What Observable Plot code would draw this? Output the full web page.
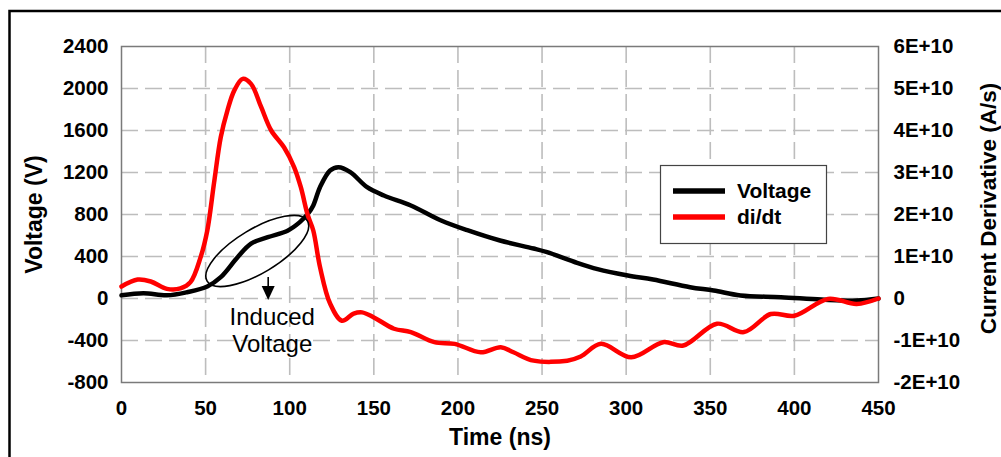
<!DOCTYPE html>
<html><head><meta charset="utf-8">
<script src="https://cdn.jsdelivr.net/npm/d3@7"></script>
<script src="https://cdn.jsdelivr.net/npm/@observablehq/plot@0.6"></script>
<style>
html,body{margin:0;padding:0;background:#fff;overflow:hidden;}
#chart svg{display:block;}
</style></head><body><div id="chart"></div>
<script>
// ---- data ----
const timeVoltage = [0, 13, 27, 39, 51, 59, 69, 77, 87, 99, 106, 111, 114, 118, 124, 129, 136, 146, 156, 172, 190, 206, 225, 245, 253, 269, 283, 301, 316, 338, 352, 368, 392, 416, 437, 450];
const voltage     = [30, 50, 30, 60, 114, 203, 393, 523, 584, 648, 727, 810, 886, 1060, 1219, 1250, 1203, 1060, 981, 886, 743, 648, 552, 476, 441, 350, 280, 219, 181, 108, 76, 29, 13, -10, -20, 0];
const timeDidt = [0, 9.6, 17.4, 27, 35, 41, 47, 51, 55, 59, 63, 67, 72, 77, 83, 89, 96.6, 102.6, 106.6, 110.6, 114, 118, 124, 131, 138, 143, 150, 162, 172, 186, 198, 213.5, 225.5, 233, 245, 265, 273, 285, 303, 322, 334, 354, 370, 386, 400, 420, 437, 450];
const didt = [2.85e9, 4.5e9, 4.05e9, 2.3e9, 2.4e9, 3.9e9, 9.8e9, 1.62e10, 2.75e10, 3.84e10, 4.48e10, 4.95e10, 5.23e10, 5.11e10, 4.56e10, 4.0e10, 3.6e10, 3.13e10, 2.65e10, 2.0e10, 1.62e10, 0.75e10, -0.12e10, -0.53e10, -0.36e10, -0.33e10, -0.45e10, -0.72e10, -0.8e10, -1.04e10, -1.08e10, -1.28e10, -1.16e10, -1.28e10, -1.48e10, -1.48e10, -1.38e10, -1.08e10, -1.4e10, -1.04e10, -1.12e10, -0.6e10, -0.8e10, -0.37e10, -0.41e10, -0.01e10, -0.13e10, 0];
const xTicks = [0, 50, 100, 150, 200, 250, 300, 350, 400, 450];
const yLeftTicks = [-800, -400, 0, 400, 800, 1200, 1600, 2000, 2400];
const yRightTicks = [-2e10, -1e10, 0, 1e10, 2e10, 3e10, 4e10, 5e10, 6e10];
const yRightTickLabels = ["-2E+10", "-1E+10", "0", "1E+10", "2E+10", "3E+10", "4E+10", "5E+10", "6E+10"];
const seriesNames = ["Voltage", "di/dt"];
const seriesColors = ["#000000", "#ff0000"];
const xLabel = "Time (ns)";
const yLeftLabel = "Voltage (V)";
const yRightLabel = "Current Derivative (A/s)";
const annotationText = "Induced\nVoltage";
const ellipseCenter = [81, 448];     // [ns, V]
const arrowT = 87.5, arrowFrom = 200, arrowTo = -19; // ns, V, V
const annotationPos = [89.6, -300];  // [ns, V]

// right axis: 6E+10 A/s aligns with 2400 V
const RATIO = yRightTicks[yRightTicks.length - 1] / yLeftTicks[yLeftTicks.length - 1];
const voltageData = timeVoltage.map((t, i) => ({t, v: voltage[i]}));
const didtData = timeDidt.map((t, i) => ({t, v: didt[i] / RATIO}));
const rightLabelMap = new Map(yRightTicks.map((v, i) => [Math.round(v / RATIO), yRightTickLabels[i]]));

const FONT = "'Liberation Sans', Arial, Helvetica, sans-serif";
const gridStyle = {stroke: "#bdbdbd", strokeOpacity: 1, strokeWidth: 1.6, strokeDasharray: "17,7"};

function annotation(index, scales) {
  const g = d3.create("svg:g");
  const cx = scales.x(ellipseCenter[0]), cy = scales.y(ellipseCenter[1]);
  g.append("ellipse").attr("cx", cx).attr("cy", cy).attr("rx", 58.5).attr("ry", 22)
    .attr("transform", `rotate(-31 ${cx} ${cy})`)
    .attr("fill", "none").attr("stroke", "#000").attr("stroke-width", 1.6);
  const ax = scales.x(arrowT), ay1 = scales.y(arrowFrom), ay2 = scales.y(arrowTo);
  g.append("line").attr("x1", ax).attr("x2", ax).attr("y1", ay1).attr("y2", ay2 - 12)
    .attr("stroke", "#000").attr("stroke-width", 1.6);
  g.append("path").attr("d", `M${ax - 6.5},${ay2 - 14}L${ax + 6.5},${ay2 - 14}L${ax},${ay2}Z`).attr("fill", "#000");
  return g.node();
}

const plot = Plot.plot({
  width: 1001,
  height: 457,
  marginLeft: 121,
  marginRight: 123,
  marginTop: 46,
  marginBottom: 75,
  style: {fontFamily: FONT, fontSize: "20px", color: "#000", background: "#fff", overflow: "hidden"},
  x: {domain: [0, 450]},
  y: {domain: [-800, 2400]},
  marks: [
    Plot.gridX({ticks: xTicks.slice(1, -1), ...gridStyle}),
    Plot.gridY({ticks: yLeftTicks.slice(1, -1), ...gridStyle}),
    Plot.frame({stroke: "#7a7a7a", strokeWidth: 1.5}),
    Plot.axisX({ticks: xTicks, tickSize: 0, tickPadding: 18, fontSize: 20.5, fontWeight: "bold", label: null, tickFormat: d => String(d)}),
    Plot.axisY({anchor: "left", ticks: yLeftTicks, tickSize: 0, tickPadding: 13, fontSize: 20.5, fontWeight: "bold", label: null, tickFormat: d => String(d)}),
    Plot.axisY({anchor: "right", ticks: yRightTicks.map(v => v / RATIO), tickSize: 0, tickPadding: 15, fontSize: 20.5, fontWeight: "bold", label: null, tickFormat: d => rightLabelMap.get(Math.round(d))}),
    Plot.text([xLabel], {frameAnchor: "bottom", dy: 55, textAnchor: "middle", lineAnchor: "middle", fontSize: 23, fontWeight: "bold", text: d => d}),
    Plot.text([yLeftLabel], {frameAnchor: "left", dx: -87, textAnchor: "middle", lineAnchor: "middle", rotate: -90, fontSize: 23, fontWeight: "bold", text: d => d}),
    Plot.text([yRightLabel], {frameAnchor: "right", dx: 110, dy: -6, textAnchor: "middle", lineAnchor: "middle", rotate: -90, fontSize: 22.5, fontWeight: "bold", text: d => d}),
    Plot.line(voltageData, {x: "t", y: "v", stroke: seriesColors[0], strokeWidth: 4.5, curve: "catmull-rom"}),
    Plot.line(didtData, {x: "t", y: "v", stroke: seriesColors[1], strokeWidth: 4.5, curve: "catmull-rom"}),
    annotation,
    Plot.text([annotationText], {x: () => annotationPos[0], y: () => annotationPos[1], text: d => d, fontSize: 24, lineHeight: 1.1, lineAnchor: "middle", fill: "#000"})
  ]
});

const svg = d3.select(plot);
// outer border (continues past right/bottom edges)
svg.append("rect").attr("x", 9.5).attr("y", 11).attr("width", 1100).attr("height", 1000)
  .attr("fill", "none").attr("stroke", "#000").attr("stroke-width", 2.5);
// legend
const lg = svg.append("g").attr("font-family", FONT).attr("font-weight", "bold").attr("font-size", 21).attr("text-anchor", "start");
lg.append("rect").attr("x", 660.5).attr("y", 165.5).attr("width", 166).attr("height", 78)
  .attr("fill", "#fff").attr("stroke", "#444").attr("stroke-width", 1.2);
seriesNames.forEach((name, i) => {
  const y = 191 + i * 26;
  lg.append("line").attr("x1", 673).attr("x2", 725).attr("y1", y).attr("y2", y)
    .attr("stroke", seriesColors[i]).attr("stroke-width", 5.5);
  lg.append("text").attr("x", 737).attr("y", y).attr("dy", "0.35em").attr("fill", "#000").text(name);
});
document.getElementById("chart").appendChild(plot);
</script></body></html>
